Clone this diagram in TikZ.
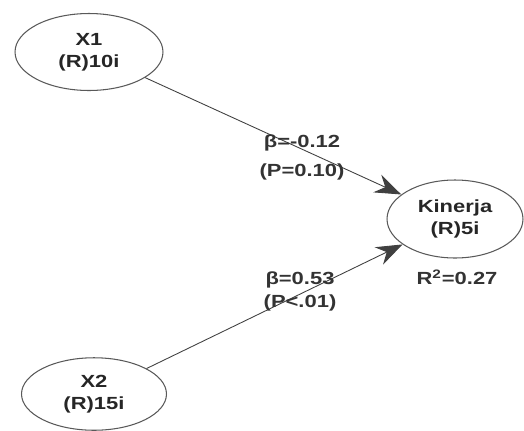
\documentclass[tikz,border=0pt]{standalone}
\usepackage{fontspec}
\setmainfont{Liberation Sans}[FakeStretch=1.25]
\usetikzlibrary{shapes.geometric,arrows.meta}
\begin{document}
\begin{tikzpicture}[x=0.02cm, y=-0.02cm, font=\fontsize{10}{12.5}\selectfont\bfseries,
  latent/.style={draw=black!65, ellipse, line width=0.6pt, align=center, text=black!85},
  path/.style={-{Stealth[length=15pt, width=11pt, inset=5pt]}, draw=black!75, line width=0.5pt},
  coef/.style={text=black!80, inner sep=1pt}]
\useasboundingbox (0,0) rectangle (524,430);
\node[latent, minimum width=2.96cm, minimum height=1.54cm] (x1) at (89,52) {X1\\(R)10i};
\node[latent, minimum width=2.9cm, minimum height=1.45cm] (x2) at (94,394) {X2\\(R)15i};
\node[latent, minimum width=2.72cm, minimum height=1.56cm] (kin) at (455,219) {Kinerja\\(R)5i};
\draw[path] (x1) -- (kin);
\draw[path] (x2) -- (kin);
% coefficients
\node[coef] (b1) at (302,143) {β=-0.12};
\node[coef] (p1) at (302,172) {(P=0.10)};
\node[coef] (b2) at (300,280) {β=0.53};
\node[coef] (p2) at (300,303) {(P<.01)};
\node[coef] (r2) at (457,277) {R\textsuperscript{2}=0.27};
\end{tikzpicture}
\end{document}
